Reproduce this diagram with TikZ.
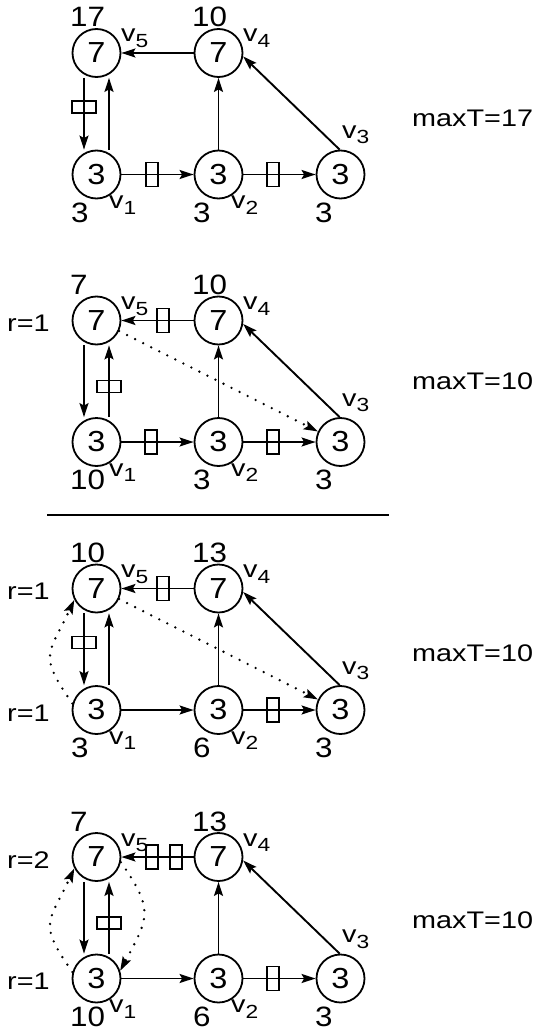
\documentclass[tikz,border=0pt]{standalone}
\usepackage{fontspec}
\setmainfont{Liberation Sans}
\newfontfamily\widefont{Liberation Sans}[FakeStretch=1.2]
\newfontfamily\midfont{Liberation Sans}[FakeStretch=1.12]
\usetikzlibrary{arrows.meta}
\newcommand{\vl}[1]{v\raisebox{-5.5pt}{\fontsize{19}{19}\selectfont #1}}
\begin{document}
\begin{tikzpicture}[x=1pt,y=-1pt,
  vtx/.style={circle,draw,line width=1.8pt,minimum size=48pt,inner sep=0pt,font=\midfont\fontsize{29}{30}\selectfont},
  tip/.style={-{Stealth[length=14pt,width=9pt,inset=2.5pt]}},
  edge/.style={line width=1.9pt,tip},
  dotl/.style={line width=2.6pt,dash pattern=on 0pt off 9pt,line cap=round,tip},
  hbx/.style={draw,line width=1.6pt,minimum width=24pt,minimum height=12pt,inner sep=0pt},
  vbx/.style={draw,line width=1.6pt,minimum width=12pt,minimum height=24pt,inner sep=0pt},
  tlab/.style={font=\midfont\fontsize{28}{30}\selectfont,inner sep=0pt,anchor=base west},
  vlab/.style={font=\widefont\fontsize{24}{26}\selectfont,inner sep=0pt,anchor=base west},
  txt/.style={font=\widefont\fontsize{24}{26}\selectfont,inner sep=0pt,anchor=base west}
]
\useasboundingbox (0,0) rectangle (539,1030);

% ---------- Panel 1 ----------
\begin{scope}[yshift=-53pt]
\node[vtx] (a5) at (96.5,0) {7};
\node[vtx] (a4) at (218.5,0) {7};
\node[vtx] (a1) at (96.5,121.5) {3};
\node[vtx] (a2) at (218.5,121.5) {3};
\node[vtx] (a3) at (340.5,121.5) {3};
\node[tlab] (a5t) at (70,-26) {17};
\node[tlab] (a4t) at (192,-26) {10};
\node[tlab] (a1t) at (71,169) {3};
\node[tlab] (a2t) at (193,169) {3};
\node[tlab] (a3t) at (315,169) {3};
\node[vlab] (a5v) at (121,-11) {\vl{5}};
\node[vlab] (a4v) at (243,-11) {\vl{4}};
\node[vlab] (a1v) at (109,155.5) {\vl{1}};
\node[vlab] (a2v) at (231,155.5) {\vl{2}};
\node[vlab] (a3v) at (342,85.5) {\vl{3}};
\node[txt] (amax) at (412,74) {maxT=17};
\draw[edge] (a4) -- (a5);
\draw[edge] ([xshift=-12.5pt]a5.south) -- ([xshift=-12.5pt]a1.north);
\draw[edge] ([xshift=12.5pt]a1.north) -- ([xshift=12.5pt]a5.south);
\draw[edge] (a1) -- (a2);
\draw[edge] (a2) -- (a3);
\draw[edge] (a2) -- (a4);
\draw[edge] (a3.92) -- (a4.-8);
\node[hbx] (ab1) at (84,54) {};
\node[vbx] (ab2) at (152,121.5) {};
\node[vbx] (ab3) at (273,121.5) {};
\end{scope}

% ---------- Panel 2 ----------
\begin{scope}[yshift=-320.5pt]
\node[vtx] (b5) at (96.5,0) {7};
\node[vtx] (b4) at (218.5,0) {7};
\node[vtx] (b1) at (96.5,121.5) {3};
\node[vtx] (b2) at (218.5,121.5) {3};
\node[vtx] (b3) at (340.5,121.5) {3};
\node[tlab] (b5t) at (70,-26) {7};
\node[tlab] (b4t) at (192,-26) {10};
\node[tlab] (b1t) at (70,169) {10};
\node[tlab] (b2t) at (193,169) {3};
\node[tlab] (b3t) at (315,169) {3};
\node[vlab] (b5v) at (121,-11) {\vl{5}};
\node[vlab] (b4v) at (243,-11) {\vl{4}};
\node[vlab] (b1v) at (109,155.5) {\vl{1}};
\node[vlab] (b2v) at (231,155.5) {\vl{2}};
\node[vlab] (b3v) at (342,85.5) {\vl{3}};
\node[txt] (br) at (7,11) {r=1};
\node[txt] (bmax) at (412,69) {maxT=10};
\draw[edge] (b4) -- (b5);
\draw[edge] ([xshift=-12.5pt]b5.south) -- ([xshift=-12.5pt]b1.north);
\draw[edge] ([xshift=12.5pt]b1.north) -- ([xshift=12.5pt]b5.south);
\draw[edge] (b1) -- (b2);
\draw[edge] (b2) -- (b3);
\draw[edge] (b2) -- (b4);
\draw[edge] (b3.92) -- (b4.-8);
\draw[dotl] (b5.-25) -- (b3.155);
\node[vbx] (bb1) at (163,0) {};
\node[hbx] (bb2) at (109,66) {};
\node[vbx] (bb3) at (151,121.5) {};
\node[vbx] (bb4) at (273,121.5) {};
\coordinate (sepL) at (47,194.5);
\coordinate (sepR) at (389,194.5);
\draw[line width=1.9pt] (sepL) -- (sepR);
\end{scope}

% ---------- Panel 3 ----------
\begin{scope}[yshift=-588.5pt]
\node[vtx] (c5) at (96.5,0) {7};
\node[vtx] (c4) at (218.5,0) {7};
\node[vtx] (c1) at (96.5,121.5) {3};
\node[vtx] (c2) at (218.5,121.5) {3};
\node[vtx] (c3) at (340.5,121.5) {3};
\node[tlab] (c5t) at (70,-26) {10};
\node[tlab] (c4t) at (192,-26) {13};
\node[tlab] (c1t) at (71,169) {3};
\node[tlab] (c2t) at (193,169) {6};
\node[tlab] (c3t) at (315,169) {3};
\node[vlab] (c5v) at (121,-11) {\vl{5}};
\node[vlab] (c4v) at (243,-11) {\vl{4}};
\node[vlab] (c1v) at (109,155.5) {\vl{1}};
\node[vlab] (c2v) at (231,155.5) {\vl{2}};
\node[vlab] (c3v) at (342,85.5) {\vl{3}};
\node[txt] (cr1) at (7,11) {r=1};
\node[txt] (cr2) at (7,132.5) {r=1};
\node[txt] (cmax) at (412,73) {maxT=10};
\draw[edge] (c4) -- (c5);
\draw[edge] ([xshift=-12.5pt]c5.south) -- ([xshift=-12.5pt]c1.north);
\draw[edge] ([xshift=12.5pt]c1.north) -- ([xshift=12.5pt]c5.south);
\draw[edge] (c1) -- (c2);
\draw[edge] (c2) -- (c3);
\draw[edge] (c2) -- (c4);
\draw[edge] (c3.92) -- (c4.-8);
\draw[dotl] (c5.-25) -- (c3.155);
\draw[dotl] (c1.165) to[out=125,in=245,looseness=1.5] (c5.207);
\node[vbx] (cb1) at (163,0) {};
\node[hbx] (cb2) at (84,54) {};
\node[vbx] (cb3) at (273,121.5) {};
\end{scope}

% ---------- Panel 4 ----------
\begin{scope}[yshift=-857pt]
\node[vtx] (d5) at (96.5,0) {7};
\node[vtx] (d4) at (218.5,0) {7};
\node[vtx] (d1) at (96.5,121.5) {3};
\node[vtx] (d2) at (218.5,121.5) {3};
\node[vtx] (d3) at (340.5,121.5) {3};
\node[tlab] (d5t) at (70,-26) {7};
\node[tlab] (d4t) at (192,-26) {13};
\node[tlab] (d1t) at (70,169) {10};
\node[tlab] (d2t) at (193,169) {6};
\node[tlab] (d3t) at (315,169) {3};
\node[vlab] (d5v) at (121,-11) {\vl{5}};
\node[vlab] (d4v) at (243,-11) {\vl{4}};
\node[vlab] (d1v) at (109,155.5) {\vl{1}};
\node[vlab] (d2v) at (231,155.5) {\vl{2}};
\node[vlab] (d3v) at (342,85.5) {\vl{3}};
\node[txt] (dr1) at (7,11) {r=2};
\node[txt] (dr2) at (7,132.5) {r=1};
\node[txt] (dmax) at (412,71) {maxT=10};
\draw[edge] (d4) -- (d5);
\draw[edge] ([xshift=-12.5pt]d5.south) -- ([xshift=-12.5pt]d1.north);
\draw[edge] ([xshift=12.5pt]d1.north) -- ([xshift=12.5pt]d5.south);
\draw[edge] (d1) -- (d2);
\draw[edge] (d2) -- (d3);
\draw[edge] (d2) -- (d4);
\draw[edge] (d3.92) -- (d4.-8);
\draw[dotl] (d1.165) to[out=125,in=245,looseness=1.5] (d5.207);
\draw[dotl] (d5.-12) to[out=-55,in=62,looseness=1.4] (d1.18);
\node[vbx] (db1) at (152,0) {};
\node[vbx] (db2) at (176,0) {};
\node[hbx] (db3) at (109,66) {};
\node[vbx] (db4) at (273,121.5) {};
\end{scope}
\end{tikzpicture}
\end{document}
